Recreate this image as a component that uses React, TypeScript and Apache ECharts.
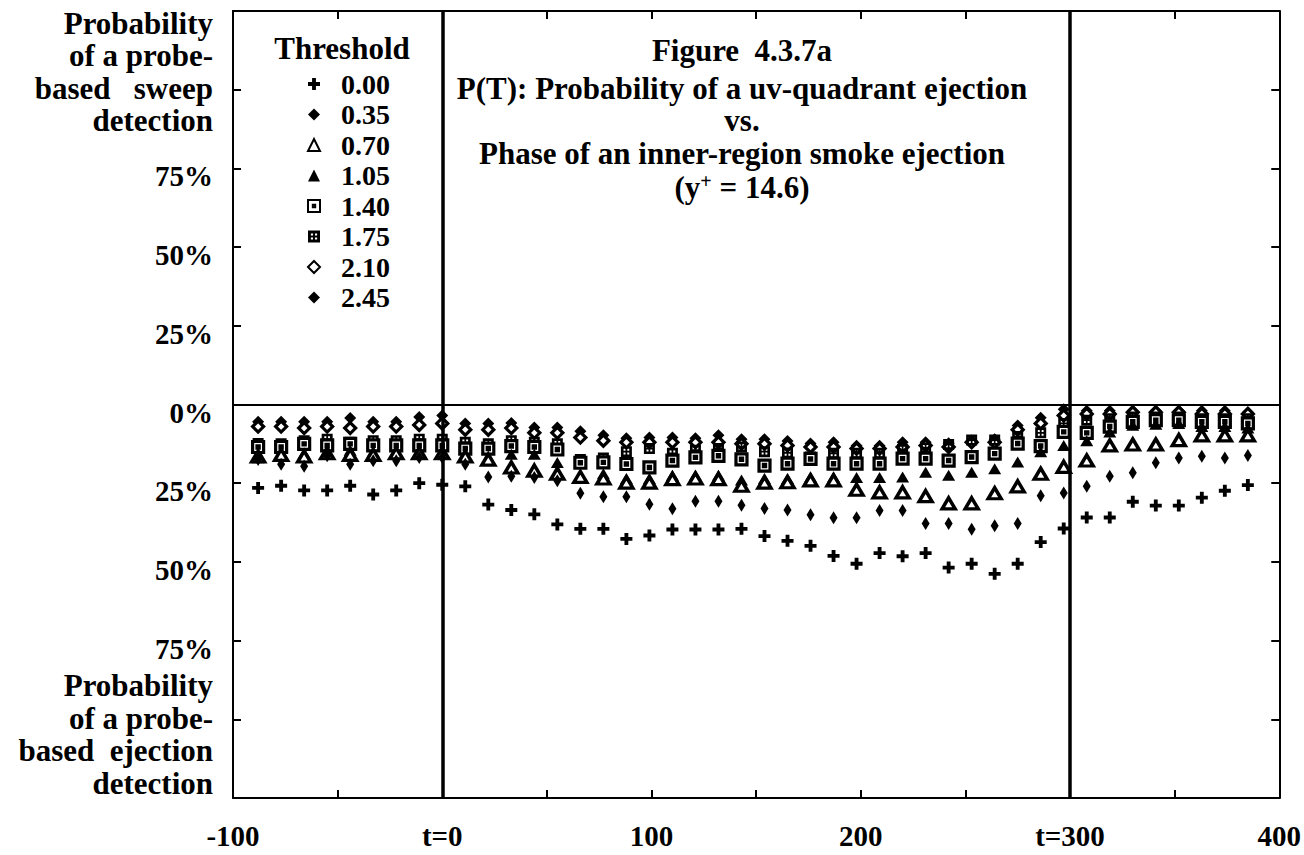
import React, { useEffect, useRef } from "react";
import * as echarts from "echarts";

// Phase (x) of each measurement column
const PHASE = [-88, -77, -66, -55, -44, -33, -22, -11, 0, 11, 22, 33, 44, 55, 66, 77, 88, 99, 110, 121, 132, 143, 154, 165, 176, 187, 198, 209, 220, 231, 242, 253, 264, 275, 286, 297, 308, 319, 330, 341, 352, 363, 374, 385];

// P(T) in % (negative = probe-based ejection detection side)
const T000 = [-26.5, -25.8, -27.3, -27.3, -25.8, -28.6, -27.3, -25, -25.5, -26, -31.8, -33.5, -34.9, -38.1, -39.5, -39.5, -42.7, -41.6, -39.7, -39.7, -39.7, -39.5, -41.8, -43.3, -44.9, -48.1, -50.6, -47.2, -48.2, -47.2, -51.8, -50.6, -53.8, -50.6, -43.7, -39.4, -35.9, -35.9, -30.9, -32.1, -32.1, -29.6, -27.4, -25.6];
const T035 = [-17.5, -19, -19.6, -16.3, -19, -17.9, -17.9, -16.8, -16.8, -19, -23, -22.8, -23.2, -24.2, -28.2, -29.3, -29.3, -31.7, -33.1, -30.7, -30.7, -32, -33, -33.5, -35, -36, -36, -33.7, -33.7, -37.8, -37.8, -39.6, -38.5, -37.8, -29, -28.1, -26, -22.8, -21.7, -18.5, -17, -16.4, -17, -16.2];
const T070 = [-16.5, -16, -16.5, -15.5, -16, -16, -15.5, -15.5, -15.5, -16.5, -17.5, -20, -21, -22, -23, -23.5, -24.8, -24.8, -23.7, -23.5, -23.7, -25.8, -24.8, -24.7, -24.1, -24.1, -27.1, -27.9, -27.9, -29.1, -31.4, -31.4, -28.2, -26, -22, -19.8, -17.8, -13, -12.7, -12.7, -11.3, -9.8, -9.8, -9.8];
const T105 = [-16.9, -15.5, -15.5, -15, -14.5, -15, -15, -15, -15, -16, -17, -15.8, -15.8, -18.4, -23, -22, -23.5, -23.5, -22.5, -22.5, -22.5, -24, -23.5, -23.5, -23, -23, -23.2, -23.2, -23, -21.5, -22.5, -21.5, -20.4, -18.3, -15, -13, -11.5, -8.7, -6.6, -6.3, -6, -7, -7, -7.5];
const T140 = [-13.5, -13.5, -12.5, -13, -12.5, -13, -13, -13, -13, -14, -14, -13.2, -13.5, -14.3, -18.5, -18.4, -18.9, -20, -17.8, -16.8, -16.3, -17.4, -19.4, -18.8, -17.3, -18.8, -18.8, -18.8, -17.2, -17.2, -17.8, -16.7, -15.6, -12.4, -13.2, -8.7, -9, -7, -5.5, -5, -5, -5.5, -5.5, -6];
const T175 = [-12.4, -12.5, -11.5, -11, -12, -11.5, -11.5, -11, -11, -12, -12.5, -11.5, -12, -12.5, -17.5, -17, -15, -14, -15.5, -14.5, -14, -13.5, -15, -15.4, -16.7, -15.5, -15.5, -15.5, -14.3, -13.8, -12.7, -11.3, -11.3, -10.2, -9, -6, -5, -4.5, -4, -4, -4, -4.5, -4.5, -4.5];
const T210 = [-7, -7, -7.5, -7, -7.5, -7, -7, -6.5, -6, -8, -8, -7.5, -9, -9, -10.5, -11.5, -12, -12, -12, -12, -12, -12.5, -12.5, -13, -13.5, -13.5, -14, -14, -13.5, -13, -13.5, -12, -12, -8, -6, -3.5, -3, -3, -2.5, -2.5, -2.5, -3, -3, -3];
const T245 = [-5.5, -5.5, -5.5, -5.5, -4.3, -5.5, -5.5, -4, -3.5, -6, -6, -5.9, -7.3, -7.3, -8.5, -9.8, -10.7, -10.5, -10.5, -10.7, -9.8, -11, -11, -11.6, -12.4, -12, -13.1, -13.1, -12, -12, -12.3, -11.5, -11, -6.7, -4.2, -1.5, -2, -2, -2, -2, -2, -2, -2, -2.5];

const THRESHOLDS = ["0.00", "0.35", "0.70", "1.05", "1.40", "1.75", "2.10", "2.45"];
const X_LABELS: Record<number, string> = { [-100]: "-100", 0: "t=0", 100: "100", 200: "200", 300: "t=300", 400: "400" };
const Y_LABELS: Record<number, string> = { 0: "0%", 25: "25%", 50: "50%", 75: "75%", [-25]: "25%", [-50]: "50%", [-75]: "75%" };
const TITLE_LINES = ["Figure  4.3.7a", "P(T): Probability of a uv-quadrant ejection", "vs.", "Phase of an inner-region smoke ejection", "(y{sup|+} = 14.6)"];

const FONT = "'Liberation Serif', 'DejaVu Serif', serif";

const SYM_PLUS = "path://M3.4,0H6.6V3.4H10V6.6H6.6V10H3.4V6.6H0V3.4H3.4Z";
const SYM_OPEN_SQ = "path://M0,0H10V10H0Z M4,4H6V6H4Z";
const SYM_FILL_SQ = "path://M0,0H10V10H0Z M2.4,2.4V4.2H4.2V2.4Z M5.8,2.4V4.2H7.6V2.4Z M2.4,5.8V7.6H4.2V5.8Z M5.8,5.8V7.6H7.6V5.8Z";

export default function App() {
  const ref = useRef<HTMLDivElement>(null);
  useEffect(() => {
    if (!ref.current) return;
    const chart = echarts.init(ref.current, null, { renderer: "svg" });
    const pts = (ys: number[]) => PHASE.map((x, i) => [x, ys[i]]);
    const black = { color: "#000", opacity: 1 };
    const openStyle = { color: "#fff", borderColor: "#000", borderWidth: 3.2, opacity: 1 };

    const seriesDefs = [
      { name: "2.45", data: T245, symbol: "diamond", symbolSize: 12, itemStyle: black },
      { name: "2.10", data: T210, symbol: "diamond", symbolSize: 11, itemStyle: openStyle },
      { name: "1.75", data: T175, symbol: SYM_FILL_SQ, symbolSize: 11, itemStyle: black },
      { name: "1.40", data: T140, symbol: SYM_OPEN_SQ, symbolSize: 11, itemStyle: openStyle },
      { name: "1.05", data: T105, symbol: "triangle", symbolSize: [13, 11], itemStyle: black },
      { name: "0.70", data: T070, symbol: "triangle", symbolSize: [13, 11], itemStyle: { color: "#fff", borderColor: "#000", borderWidth: 3.4, opacity: 1 } },
      { name: "0.35", data: T035, symbol: "diamond", symbolSize: [8, 13], itemStyle: black },
      { name: "0.00", data: T000, symbol: SYM_PLUS, symbolSize: 12, itemStyle: black },
    ];

    const series: any[] = seriesDefs.map((s) => ({
      type: "scatter",
      name: s.name,
      data: pts(s.data),
      symbol: s.symbol,
      symbolSize: s.symbolSize,
      itemStyle: s.itemStyle,
      emphasis: { disabled: true },
    }));
    series[series.length - 1].markLine = {
      silent: true,
      symbol: ["none", "none"],
      label: { show: false },
      data: [
        { xAxis: 0, lineStyle: { color: "#000", width: 3.5, type: "solid", opacity: 1 } },
        { xAxis: 300, lineStyle: { color: "#000", width: 3.5, type: "solid", opacity: 1 } },
        { yAxis: 0, lineStyle: { color: "#000", width: 2, type: "solid", opacity: 1 } },
      ],
    };

    const textBase = { fontFamily: FONT, fontWeight: "bold", fill: "#000" };

    const graphic: any[] = [];
    const titleY = [50, 88, 120, 153, 187];
    TITLE_LINES.forEach((t, i) => {
      graphic.push({
        type: "text",
        x: 742,
        y: titleY[i],
        style: {
          ...textBase,
          text: t,
          fontSize: 31,
          lineHeight: 29,
          align: "center",
          verticalAlign: "middle",
          rich: { sup: { fontFamily: FONT, fontWeight: "bold", fontSize: 20, lineHeight: 29, padding: [0, 0, 12, 0] } },
        },
      });
    });
    graphic.push({
      type: "text",
      x: 342,
      y: 48,
      style: { ...textBase, text: "Threshold", fontSize: 31, align: "center", verticalAlign: "middle" },
    });
    graphic.push({
      type: "text",
      x: 213,
      y: 7,
      style: { ...textBase, text: "Probability\nof a probe-\nbased   sweep\ndetection", fontSize: 31, lineHeight: 32.5, align: "right", verticalAlign: "top" },
    });
    graphic.push({
      type: "text",
      x: 213,
      y: 669,
      style: { ...textBase, text: "Probability\nof a probe-\nbased  ejection\ndetection", fontSize: 31, lineHeight: 32.7, align: "right", verticalAlign: "top" },
    });

    const axisLine = { show: true, onZero: false, lineStyle: { color: "#000", width: 2 } };
    const axisTick = { show: true, inside: true, length: 8, lineStyle: { color: "#000", width: 2 } };
    const labelFont = { fontFamily: FONT, fontWeight: "bold" as const, fontSize: 29, color: "#000" };

    chart.setOption({
      animation: false,
      backgroundColor: "#fff",
      textStyle: { fontFamily: FONT },
      grid: { left: 233, right: 23, top: 11, bottom: 57, containLabel: false },
      legend: {
        data: THRESHOLDS,
        orient: "vertical",
        left: 307,
        top: 70,
        padding: 0,
        itemWidth: 12,
        itemHeight: 12,
        itemGap: 2.5,
        selectedMode: false,
        textStyle: { ...labelFont, fontSize: 28, lineHeight: 28, padding: [0, 0, 0, 16] },
      },
      xAxis: [
        {
          type: "value",
          min: -100,
          max: 400,
          interval: 50,
          position: "bottom",
          axisLine,
          axisTick,
          splitLine: { show: false },
          axisLabel: {
            ...labelFont,
            margin: 23,
            showMinLabel: true,
            showMaxLabel: true,
            formatter: (v: number) => X_LABELS[v] ?? "",
          },
        },
        {
          type: "value",
          min: -100,
          max: 400,
          interval: 50,
          position: "top",
          axisLine,
          axisTick,
          splitLine: { show: false },
          axisLabel: { show: false },
        },
      ],
      yAxis: [
        {
          type: "value",
          min: -125,
          max: 125,
          interval: 25,
          position: "left",
          axisLine,
          axisTick,
          splitLine: { show: false },
          axisLabel: {
            ...labelFont,
            margin: 20,
            formatter: (v: number) => (Y_LABELS[v] ? `{p|${Y_LABELS[v]}}` : ""),
            rich: { p: { ...labelFont, padding: [16, 0, 0, 0] } },
          },
        },
        {
          type: "value",
          min: -125,
          max: 125,
          interval: 25,
          position: "right",
          axisLine,
          axisTick,
          splitLine: { show: false },
          axisLabel: { show: false },
        },
      ],
      graphic,
      series,
    });
    return () => chart.dispose();
  }, []);
  return <div ref={ref} style={{ position: "absolute", left: 0, top: 0, width: 1304, height: 855, background: "#fff" }} />;
}
